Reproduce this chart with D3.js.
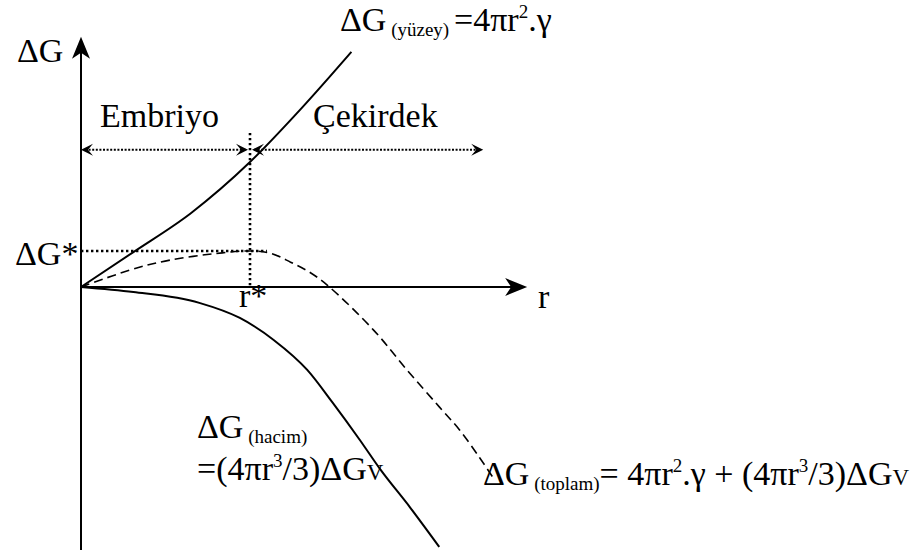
<!DOCTYPE html>
<html>
<head>
<meta charset="utf-8">
<script src="https://cdn.jsdelivr.net/npm/d3@7"></script>
<style>
  html, body { margin: 0; padding: 0; background: #fff; }
  svg { display: block; }
</style>
</head>
<body>
<svg id="chart" width="916" height="550"></svg>
<script>
// Nucleation free energy vs. embryo radius (schematic units: r* = 1, ΔG* = 1)
const surfaceR = [0, 0.31, 0.65, 1.0, 1.3, 1.6];
const surfaceG = [0, 0.97, 2.05, 3.47, 4.94, 6.53];

const volumeR = [0, 0.31, 0.70, 0.94, 1.14, 1.34, 1.49, 1.65, 1.77, 1.95, 2.12];
const volumeG = [0, -0.14, -0.44, -0.86, -1.47, -2.31, -3.22, -4.25, -5.06, -6.14, -7.22];

const totalR = [0, 0.33, 0.53, 0.78, 1.0, 1.12, 1.24, 1.36, 1.47, 1.73, 1.93, 2.12, 2.24, 2.36, 2.44];
const totalG = [0, 0.53, 0.75, 0.92, 1.0, 0.94, 0.69, 0.39, 0, -1.19, -2.31, -3.33, -3.97, -4.75, -5.31];

const rStar = 1;      // critical radius
const gStar = 1;      // activation barrier
const rMax = 2.64;    // end of r axis
const gTop = 6.95;    // top of ΔG axis
const gBottom = -7.4; // bottom of ΔG axis
const arrowRowG = 3.81;   // height of the Embriyo / Çekirdek arrows
const nucleusEndR = 2.38; // right end of the Çekirdek arrow
const starGuideEndR = 1.1;
const starGuideTopG = 4.28;

const FONT = "'Liberation Serif', 'Times New Roman', 'DejaVu Serif', serif";

const svg = d3.select("#chart");

const x = d3.scaleLinear().domain([0, 1]).range([81, 250]);
const y = d3.scaleLinear().domain([0, 1]).range([287, 251]);

const line = d3.line()
  .x(d => x(d[0]))
  .y(d => y(d[1]))
  .curve(d3.curveMonotoneX);

const zip = (a, b) => a.map((v, i) => [v, b[i]]);

// axes
const ax = svg.append("g").attr("stroke", "#000").attr("fill", "none");
ax.append("line")
  .attr("x1", x(0)).attr("x2", x(0))
  .attr("y1", y(gTop) + 10).attr("y2", y(gBottom))
  .attr("stroke-width", 2);
ax.append("line")
  .attr("x1", x(0)).attr("x2", x(rMax) - 8)
  .attr("y1", y(0)).attr("y2", y(0))
  .attr("stroke-width", 2.2);

// filled stealth arrowheads
function stealth(tx, ty, angle, len, half, notch) {
  const p = [[0, 0], [-len, -half], [-len + notch, 0], [-len, half]];
  const c = Math.cos(angle), s = Math.sin(angle);
  const pts = p.map(([u, v]) => [tx + u * c - v * s, ty + u * s + v * c]);
  return "M" + pts.map(q => q.join(",")).join("L") + "Z";
}
svg.append("path").attr("d", stealth(x(0), y(gTop), -Math.PI / 2, 22, 9, 6)).attr("fill", "#000");
svg.append("path").attr("d", stealth(x(rMax), y(0), 0, 22, 9, 6)).attr("fill", "#000");

// curves
svg.append("path")
  .attr("d", line(zip(surfaceR, surfaceG)))
  .attr("fill", "none").attr("stroke", "#000").attr("stroke-width", 2);
svg.append("path")
  .attr("d", line(zip(volumeR, volumeG)))
  .attr("fill", "none").attr("stroke", "#000").attr("stroke-width", 2);
svg.append("path")
  .attr("d", d3.line().x(d => x(d[0])).y(d => y(d[1])).curve(d3.curveCatmullRom.alpha(0.5))(zip(totalR, totalG)))
  .attr("fill", "none").attr("stroke", "#000").attr("stroke-width", 1.6)
  .attr("stroke-dasharray", "9,5");

// dotted guides at r* and ΔG*
const dots = svg.append("g").attr("stroke", "#000").attr("fill", "none");
dots.append("line")
  .attr("x1", x(0)).attr("x2", x(starGuideEndR))
  .attr("y1", y(gStar)).attr("y2", y(gStar))
  .attr("stroke-width", 2.6).attr("stroke-dasharray", "2.4,2.6");
dots.append("line")
  .attr("x1", x(rStar)).attr("x2", x(rStar))
  .attr("y1", y(starGuideTopG)).attr("y2", y(0))
  .attr("stroke-width", 2.6).attr("stroke-dasharray", "2.4,2.6");

// Embriyo / Çekirdek range arrows
const arrowY = y(arrowRowG);
dots.append("line")
  .attr("x1", x(0) + 4).attr("x2", x(rStar) - 4)
  .attr("y1", arrowY).attr("y2", arrowY)
  .attr("stroke-width", 2).attr("stroke-dasharray", "2,1.6");
dots.append("line")
  .attr("x1", x(rStar) + 4).attr("x2", x(nucleusEndR) - 4)
  .attr("y1", arrowY).attr("y2", arrowY)
  .attr("stroke-width", 2).attr("stroke-dasharray", "2,1.6");
[[x(0), Math.PI], [x(rStar) - 2, 0], [x(rStar) + 2, Math.PI], [x(nucleusEndR), 0]].forEach(([tx, a]) => {
  svg.append("path").attr("d", stealth(tx, arrowY, a, 12, 6, 5)).attr("fill", "#000");
});

// labels
function label(px, py, parts) {
  const t = svg.append("text")
    .attr("x", px).attr("y", py)
    .attr("font-family", FONT)
    .attr("fill", "#000");
  parts.forEach(p => {
    t.append("tspan")
      .attr("font-family", FONT)
      .attr("font-size", p.size)
      .attr("dy", p.dy || 0)
      .text(p.t);
  });
  return t;
}
const F = 34, S = 19, V = 23;

label(17, 62, [{ t: "ΔG", size: F }]);
label(100, 127, [{ t: "Embriyo", size: F }]);
label(313, 127, [{ t: "Çekirdek", size: F }]);
label(15, 265, [{ t: "ΔG*", size: F }]);
label(239, 307, [{ t: "r*", size: F }]);
label(538, 308, [{ t: "r", size: F }]);

label(340, 31, [
  { t: "ΔG", size: F },
  { t: " (yüzey) ", size: S, dy: 5 },
  { t: "=4πr", size: F, dy: -5 },
  { t: "2", size: S, dy: -13 },
  { t: ".γ", size: F, dy: 13 }
]);

label(197, 438, [
  { t: "ΔG", size: F },
  { t: " (hacim)", size: S, dy: 5 }
]);
label(197, 480, [
  { t: "=(4πr", size: F },
  { t: "3", size: S, dy: -13 },
  { t: "/3)ΔG", size: F, dy: 13 },
  { t: "V", size: V }
]);

label(483, 485, [
  { t: "ΔG", size: F },
  { t: " (toplam)", size: S, dy: 5 },
  { t: "= 4πr", size: F, dy: -5 },
  { t: "2", size: S, dy: -13 },
  { t: ".γ + (4πr", size: F, dy: 13 },
  { t: "3", size: S, dy: -13 },
  { t: "/3)ΔG", size: F, dy: 13 },
  { t: "V", size: V }
]);
</script>
</body>
</html>
